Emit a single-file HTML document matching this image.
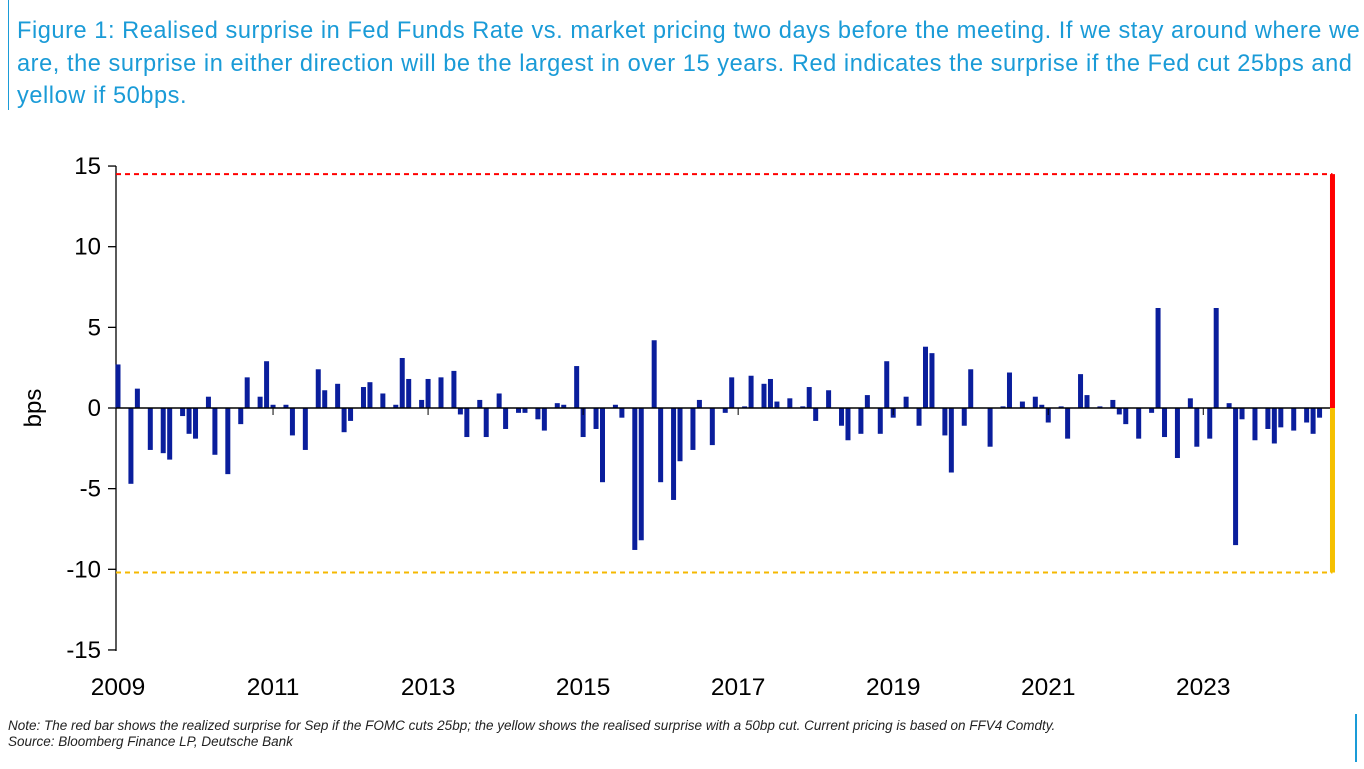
<!DOCTYPE html>
<html><head><meta charset="utf-8"><style>
body{margin:0;width:1364px;height:769px;background:#fff;font-family:"Liberation Sans",sans-serif;overflow:hidden;position:relative}
#title{position:absolute;left:8px;top:0;width:1356px;height:110px;border-left:1.5px solid #1a9bd7;color:#1a9bd7;font-size:23.6px;line-height:32.5px;padding:15px 0 0 8px;box-sizing:border-box;letter-spacing:0.55px}
#note{position:absolute;left:8px;top:718px;font-size:13.5px;font-style:italic;color:#222;line-height:15.5px}
#rb{position:absolute;left:1355px;top:714px;width:1.5px;height:48px;background:#1a9bd7}
svg{position:absolute;left:0;top:0}
</style></head><body>
<div id="title">Figure 1: Realised surprise in Fed Funds Rate vs. market pricing two days before the meeting. If we stay around where we are, the surprise in either direction will be the largest in over 15 years. Red indicates the surprise if the Fed cut 25bps and yellow if 50bps.</div>
<div id="note">Note: The red bar shows the realized surprise for Sep if the FOMC cuts 25bp; the yellow shows the realised surprise with a 50bp cut. Current pricing is based on FFV4 Comdty.<br>Source: Bloomberg Finance LP, Deutsche Bank</div>
<div id="rb"></div>
<svg id="chart" width="1364" height="769"></svg>
<script>
// month index since Jan 2009
const months=[0,2,3,5,7,8,10,11,12,14,15,17,19,20,22,23,24,26,27,29,31,32,34,35,36,38,39,41,43,44,45,47,48,50,52,53,54,56,57,59,60,62,63,65,66,68,69,71,72,74,75,77,78,80,81,83,84,86,87,89,90,92,94,95,97,98,100,101,102,104,106,107,108,110,112,113,115,116,118,119,120,122,124,125,126,128,129,131,132,135,137,138,140,142,143,144,146,147,149,150,152,154,155,156,158,160,161,162,164,166,167,169,170,172,173,174,176,178,179,180,182,184,185,186];
const surprise=[2.7,-4.7,1.2,-2.6,-2.8,-3.2,-0.5,-1.6,-1.9,0.7,-2.9,-4.1,-1.0,1.9,0.7,2.9,0.2,0.2,-1.7,-2.6,2.4,1.1,1.5,-1.5,-0.8,1.3,1.6,0.9,0.2,3.1,1.8,0.5,1.8,1.9,2.3,-0.4,-1.8,0.5,-1.8,0.9,-1.3,-0.3,-0.3,-0.7,-1.4,0.3,0.2,2.6,-1.8,-1.3,-4.6,0.2,-0.6,-8.8,-8.2,4.2,-4.6,-5.7,-3.3,-2.6,0.5,-2.3,-0.3,1.9,0.1,2.0,1.5,1.8,0.4,0.6,0.1,1.3,-0.8,1.1,-1.1,-2.0,-1.6,0.8,-1.6,2.9,-0.6,0.7,-1.1,3.8,3.4,-1.7,-4.0,-1.1,2.4,-2.4,0.1,2.2,0.4,0.7,0.2,-0.9,0.1,-1.9,2.1,0.8,0.1,0.5,-0.4,-1.0,-1.9,-0.3,6.2,-1.8,-3.1,0.6,-2.4,-1.9,6.2,0.3,-8.5,-0.7,-2.0,-1.3,-2.2,-1.2,-1.4,-0.9,-1.6,-0.6];
const cutMonth=188, cut25=14.5, cut50=-10.2;
const yTicks=[15,10,5,0,-5,-10,-15];
const xYears=[2009,2011,2013,2015,2017,2019,2021,2023];
const NS="http://www.w3.org/2000/svg",svg=document.getElementById('chart');
const y=v=>408-v*16.13, x=m=>118+m*6.46;
function mk(t,a){const e=document.createElementNS(NS,t);for(const k in a)e.setAttribute(k,a[k]);svg.appendChild(e);return e;}
let ax=mk('line',{x1:116,x2:116,y1:166,y2:651,stroke:'#000','stroke-width':1.3});

yTicks.forEach(v=>{
 let t=mk('line',{x1:108,x2:116,y1:y(v),y2:y(v),stroke:'#000','stroke-width':1.3});
 
 let l=mk('text',{x:101,y:y(v)+8,'text-anchor':'end','font-size':24,fill:'#000'});l.textContent=v;
 
});
let yt=mk('text',{x:0,y:0,'font-size':24,'text-anchor':'middle',transform:'translate(41,408) rotate(-90)'});yt.textContent='bps';

xYears.forEach(yr=>{
 let l=mk('text',{x:x((yr-2009)*12),y:695,'text-anchor':'middle','font-size':24.5});l.textContent=yr;
 
});
months.forEach((m,i)=>{
 const v=surprise[i];
 let b=mk('rect',{x:x(m)-2.5,y:Math.min(y(v),y(0)),width:5,height:Math.abs(y(v)-y(0)),fill:'#0a1e9c'});
 
});
let z=mk('line',{x1:116,x2:x(cutMonth),y1:y(0),y2:y(0),stroke:'#000','stroke-width':1.5});

[24,48,72,96,120,144,168].forEach(m=>{let t=mk('line',{x1:x(m),x2:x(m),y1:y(0),y2:y(0)+7,stroke:'#000','stroke-width':1});
 });
let rl=mk('line',{x1:116,x2:x(cutMonth),y1:y(cut25),y2:y(cut25),stroke:'#f00','stroke-width':2,'stroke-dasharray':'5,4'});

let yl=mk('line',{x1:116,x2:x(cutMonth),y1:y(cut50),y2:y(cut50),stroke:'#f5b800','stroke-width':2,'stroke-dasharray':'5,4'});

let rb=mk('rect',{x:x(cutMonth)-2.5,y:y(cut25),width:5,height:y(0)-y(cut25),fill:'#f00'});

let yb=mk('rect',{x:x(cutMonth)-2.5,y:y(0),width:5,height:y(cut50)-y(0),fill:'#f5c000'});

</script>
</body></html>
